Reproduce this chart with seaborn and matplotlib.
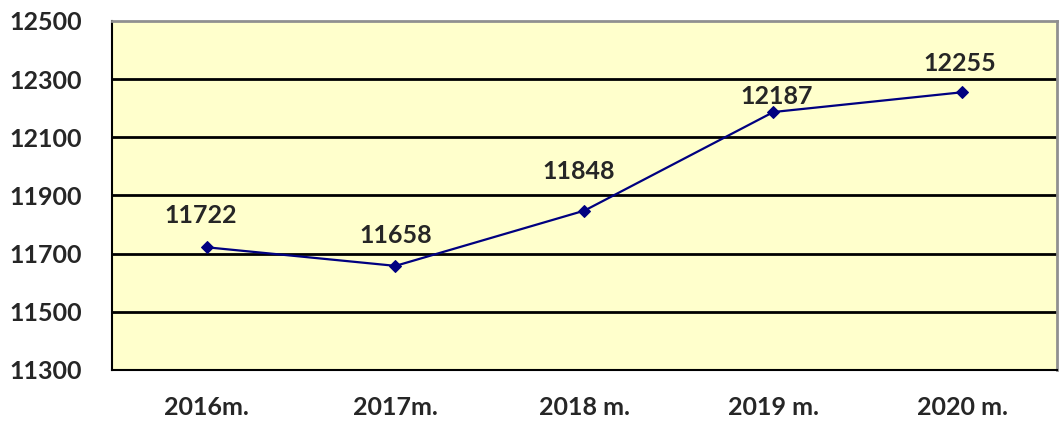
import numpy as np
import pandas as pd
import seaborn as sns
import matplotlib.pyplot as plt

years = ['2016m.', '2017m.', '2018 m.', '2019 m.', '2020 m.']
values = [11722, 11658, 11848, 12187, 12255]
y_ticks = [11300, 11500, 11700, 11900, 12100, 12300, 12500]
# label offsets (points) as placed in the original chart
label_dx = [-4, 0, -4, 2, -2]
label_dy = [23, 22, 28, 11, 21]

df = pd.DataFrame({'Year': years, 'Value': values})

sns.set_style('white')
plt.rcParams['font.family'] = ['Lato', 'DejaVu Sans']
plt.rcParams['font.weight'] = 'bold'

fig = plt.figure(figsize=(10.59, 4.23), dpi=100)
ax = fig.add_axes([0.1058, 0.1253, 0.8922, 0.8251])
ax.set_facecolor('#FFFFCC')

sns.lineplot(data=df, x='Year', y='Value', ax=ax, color='#000080', lw=1.6,
             marker='D', markersize=6.5, markeredgecolor='#000080', zorder=3)

for i, v in enumerate(values):
    ax.annotate(str(v), (i, v), xytext=(label_dx[i], label_dy[i]), textcoords='offset points',
                ha='center', va='center', fontsize=18, fontweight='bold')

ax.set_ylim(11300, 12500)
ax.set_yticks(y_ticks)
ax.set_yticklabels([str(t) for t in y_ticks], fontsize=18, fontweight='bold')
for t in y_ticks[1:-1]:
    ax.axhline(t, color='black', lw=2, zorder=1)

ax.set_xlim(-0.5, 4.5)
ax.set_xticks(np.arange(-0.5, 5, 1))
ax.set_xticklabels([])
ax.set_xticks(range(len(years)), minor=True)
ax.set_xticklabels(years, minor=True, fontsize=18, fontweight='bold')
ax.tick_params(axis='x', which='major', length=7, width=1, direction='out', color='black')
ax.tick_params(axis='x', which='minor', length=0, pad=19)
ax.tick_params(axis='y', length=6.5, width=1, direction='out', color='black', pad=15)
ax.set_xlabel('')
ax.set_ylabel('')

ax.spines['left'].set_color('black')
ax.spines['bottom'].set_color('black')
ax.spines['left'].set_linewidth(1.5)
ax.spines['bottom'].set_linewidth(1.5)
ax.spines['top'].set_color('#909090')
ax.spines['right'].set_color('#909090')
ax.spines['top'].set_linewidth(2)
ax.spines['right'].set_linewidth(2)

fig.savefig('out.png', dpi=100)
